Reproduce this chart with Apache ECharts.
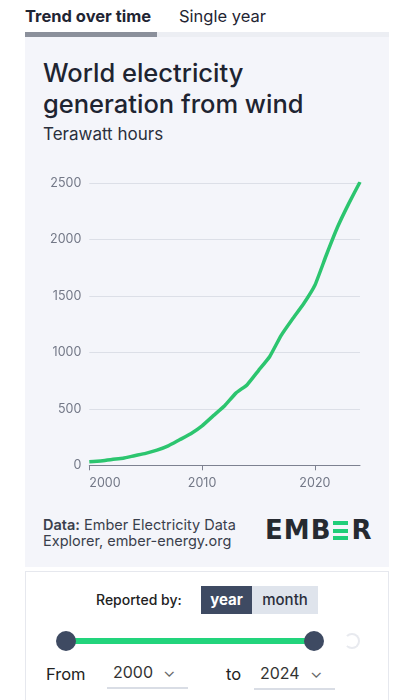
<!DOCTYPE html>
<html>
<head>
<meta charset="utf-8">
<script src="https://cdn.jsdelivr.net/npm/echarts@6/dist/echarts.min.js"></script>
<style>
  html, body { margin: 0; padding: 0; background: #fff; width: 414px; height: 700px; overflow: hidden; font-family: Inter, "Noto Sans", sans-serif; color: #1f2533; }
  .abs { position: absolute; white-space: nowrap; }
  .panel { position: absolute; left: 25px; top: 37px; width: 364px; height: 530px; background: #f4f5fa; }
  .tabbar { position: absolute; left: 25px; top: 32px; width: 364px; height: 5px; background: #eceef3; }
  .tabactive { position: absolute; left: 25px; top: 32px; width: 132px; height: 5px; background: #8b909b; }
  #chart { position: absolute; left: 25px; top: 160px; width: 364px; height: 345px; }
  .card { position: absolute; left: 25px; top: 571px; width: 362px; height: 140px; border: 1px solid #e6e8ee; background: #fff; }
  .sel { position: absolute; border-bottom: 2px solid #d9dde5; height: 26px; font-size: 16px; color: #333; }
  .logo { position: absolute; left: 265px; top: 517px; height: 26px; font-size: 26px; line-height: 26px; font-weight: 800; letter-spacing: 1px; color: #262a31; font-family: 'DejaVu Sans', Inter, sans-serif; white-space: nowrap; }
  .bars { display: inline-block; position: relative; width: 15px; height: 19px; margin: 0 3px 0 2px; vertical-align: -1px; }
  .bars i { position: absolute; left: 0; width: 15px; height: 4px; background: #1fce79; }
</style>
</head>
<body>
<div class="abs" style="left:25px; top:6px; font-size:16.5px; font-weight:700; color:#1f2533;">Trend over time</div>
<div class="abs" style="left:179px; top:6px; font-size:16.5px; color:#1f2533;">Single year</div>
<div class="panel"></div>
<div class="tabbar"></div>
<div class="tabactive"></div>

<div class="abs" style="left:43px; top:57px; font-size:25.5px; line-height:31px; font-weight:500; color:#1e2431;">World electricity<br>generation from wind</div>
<div class="abs" style="left:43px; top:124px; font-size:17px; color:#2a2f3c;">Terawatt hours</div>

<div id="chart"></div>

<div class="abs" style="left:43px; top:517px; font-size:14.5px; line-height:16px; color:#3a3f4c;"><b style="font-weight:600;">Data:</b> Ember Electricity Data<br>Explorer, ember-energy.org</div>
<div class="logo">EMB<span class="bars"><i style="top:0"></i><i style="top:7.5px"></i><i style="top:15px"></i></span>R</div>

<div class="card"></div>
<div class="abs" style="left:96px; top:591px; font-size:14px; font-weight:500; color:#222;">Reported by:</div>
<div class="abs" style="left:201px; top:586px; width:51px; height:28px; background:#3e4a62; color:#fff; font-size:15px; font-weight:700; text-align:center; line-height:28px;">year</div>
<div class="abs" style="left:252px; top:586px; width:66px; height:28px; background:#dfe4ec; color:#2a2f3c; font-size:15px; font-weight:500; text-align:center; line-height:28px;">month</div>

<div class="abs" style="left:66px; top:638px; width:248px; height:6px; background:#22d47c;"></div>
<div class="abs" style="left:56px; top:631px; width:20px; height:20px; border-radius:50%; background:#3e4a62;"></div>
<div class="abs" style="left:304px; top:631px; width:20px; height:20px; border-radius:50%; background:#3e4a62;"></div>
<div class="abs" style="left:344px; top:633px; width:12px; height:12px; border-radius:50%; border:2px solid #e8eaef; border-left-color:transparent;"></div>

<div class="abs" style="left:46px; top:664px; font-size:16.5px; color:#222;">From</div>
<div class="sel" style="left:107px; top:661px; width:81px;"><span style="position:absolute; left:6px; top:1px;">2000</span><span style="position:absolute; left:56px; top:0px; color:#666;">&#8964;</span></div>
<div class="abs" style="left:226px; top:664px; font-size:16.5px; color:#222;">to</div>
<div class="sel" style="left:254px; top:662px; width:81px;"><span style="position:absolute; left:6px; top:1px;">2024</span><span style="position:absolute; left:56px; top:0px; color:#666;">&#8964;</span></div>

<script>
  const years = ['2000', '2001', '2002', '2003', '2004', '2005', '2006', '2007', '2008', '2009',
    '2010', '2011', '2012', '2013', '2014', '2015', '2016', '2017', '2018', '2019',
    '2020', '2021', '2022', '2023', '2024'];
  const windTWh = [31, 38, 52, 63, 85, 106, 134, 172, 226, 280,
    350, 440, 528, 640, 715, 840, 965, 1150, 1295, 1432,
    1596, 1860, 2110, 2320, 2512];
  const yTicks = [0, 500, 1000, 1500, 2000, 2500];

  let myChart = null;

  function initChart() {
    const dom = document.getElementById('chart');
    if (dom) {
      myChart = echarts.init(dom);
      setOption();
    }
  }

  function setOption() {
    const options = {
      animation: false,
      grid: { left: 64.3, right: 29, top: 23.3, bottom: 39.7, containLabel: false },
      xAxis: {
        type: 'category',
        boundaryGap: false,
        data: years,
        axisLine: { lineStyle: { color: '#7d8190', width: 1 } },
        axisTick: { show: true, interval: 9, length: 5, lineStyle: { color: '#7d8190' } },
        axisLabel: {
          interval: 9,
          color: '#737887',
          fontSize: 12.5,
          fontFamily: 'Inter',
          margin: 11,
          alignMinLabel: 'left',
        },
        splitLine: { show: false },
      },
      yAxis: {
        type: 'value',
        min: yTicks[0],
        max: yTicks[yTicks.length - 1],
        interval: 500,
        axisLine: { show: false },
        axisTick: { show: false },
        axisLabel: {
          color: '#737887',
          fontSize: 12.5,
          fontFamily: 'Inter',
          margin: 8,
          formatter: (v) => String(v), // no thousands separator
        },
        splitLine: { lineStyle: { color: '#dcdfe7', width: 1 } },
      },
      series: [
        {
          name: 'Wind',
          type: 'line',
          data: windTWh,
          showSymbol: false,
          smooth: 0.15,
          lineStyle: { color: '#2cc56f', width: 3.5 },
        },
      ],
    };
    if (myChart) {
      myChart.setOption(options);
    }
  }

  initChart();
</script>
</body>
</html>
